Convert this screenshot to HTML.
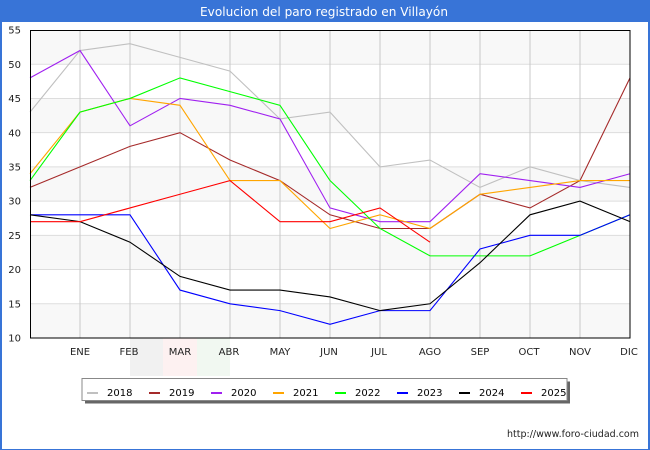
<!DOCTYPE html>
<html>
<head>
<meta charset="utf-8">
<style>
html,body{margin:0;padding:0;background:#fff;}
svg{display:block;}
text{font-family:"DejaVu Sans","Liberation Sans",sans-serif;}
</style>
</head>
<body>
<svg width="650" height="450" viewBox="0 0 650 450" xmlns="http://www.w3.org/2000/svg">
<rect x="0" y="0" width="650" height="450" fill="#ffffff"/>
<!-- outer blue frame -->
<rect x="0" y="0" width="2" height="450" fill="#3874d7"/>
<rect x="648" y="0" width="2" height="450" fill="#3874d7"/>
<rect x="0" y="449" width="650" height="1" fill="#3874d7"/>
<!-- title bar -->
<rect x="0" y="0" width="650" height="22" fill="#3874d7"/>
<text x="324" y="16" font-size="12" fill="#ffffff" text-anchor="middle" textLength="248" lengthAdjust="spacingAndGlyphs">Evolucion del paro registrado en Villayón</text>

<!-- watermark -->
<rect x="130" y="338" width="33" height="38" fill="#f1f1f1"/>
<rect x="163" y="338" width="34" height="38" fill="#fdf1f1"/>
<rect x="197" y="338" width="33" height="38" fill="#f1f8f1"/>

<!-- plot bands -->
<rect x="30" y="30" width="600" height="308" fill="#ffffff"/>
<rect x="30" y="30" width="600" height="34.22" fill="#f8f8f8"/>
<rect x="30" y="98.44" width="600" height="34.23" fill="#f8f8f8"/>
<rect x="30" y="166.89" width="600" height="34.22" fill="#f8f8f8"/>
<rect x="30" y="235.33" width="600" height="34.23" fill="#f8f8f8"/>
<rect x="30" y="303.78" width="600" height="34.22" fill="#f8f8f8"/>

<!-- horizontal gridlines -->
<g stroke="#dddddd" stroke-width="1">
<line x1="30" y1="64.22" x2="630" y2="64.22"/>
<line x1="30" y1="98.44" x2="630" y2="98.44"/>
<line x1="30" y1="132.67" x2="630" y2="132.67"/>
<line x1="30" y1="166.89" x2="630" y2="166.89"/>
<line x1="30" y1="201.11" x2="630" y2="201.11"/>
<line x1="30" y1="235.33" x2="630" y2="235.33"/>
<line x1="30" y1="269.56" x2="630" y2="269.56"/>
<line x1="30" y1="303.78" x2="630" y2="303.78"/>
</g>
<!-- vertical gridlines -->
<g stroke="#c8c8c8" stroke-width="1">
<line x1="80" y1="30" x2="80" y2="338"/>
<line x1="130" y1="30" x2="130" y2="338"/>
<line x1="180" y1="30" x2="180" y2="338"/>
<line x1="230" y1="30" x2="230" y2="338"/>
<line x1="280" y1="30" x2="280" y2="338"/>
<line x1="330" y1="30" x2="330" y2="338"/>
<line x1="380" y1="30" x2="380" y2="338"/>
<line x1="430" y1="30" x2="430" y2="338"/>
<line x1="480" y1="30" x2="480" y2="338"/>
<line x1="530" y1="30" x2="530" y2="338"/>
<line x1="580" y1="30" x2="580" y2="338"/>
</g>

<!-- series -->
<g fill="none" stroke-width="1.1" stroke-linejoin="miter">
<polyline stroke="#c0c0c0" points="30,112.13 80,50.53 130,43.69 180,57.38 230,71.07 280,118.98 330,112.13 380,166.89 430,160.04 480,187.42 530,166.89 580,180.58 630,187.42"/>
<polyline stroke="#a52a2a" points="30,187.42 80,166.89 130,146.36 180,132.67 230,160.04 280,180.58 330,214.8 380,228.49 430,228.49 480,194.27 530,207.96 580,180.58 630,77.91"/>
<polyline stroke="#a020f0" points="30,77.91 80,50.53 130,125.82 180,98.44 230,105.29 280,118.98 330,207.96 380,221.64 430,221.64 480,173.73 530,180.58 580,187.42 630,173.73"/>
<polyline stroke="#ffa500" points="30,173.73 80,112.13 130,98.44 180,105.29 230,180.58 280,180.58 330,228.49 380,214.8 430,228.49 480,194.27 530,187.42 580,180.58 630,180.58"/>
<polyline stroke="#00ff00" points="30,180.58 80,112.13 130,98.44 180,77.91 230,91.6 280,105.29 330,180.58 380,228.49 430,255.87 480,255.87 530,255.87 580,235.33 630,214.8"/>
<polyline stroke="#0000ff" points="30,214.8 80,214.8 130,214.8 180,290.09 230,303.78 280,310.62 330,324.31 380,310.62 430,310.62 480,249.02 530,235.33 580,235.33 630,214.8"/>
<polyline stroke="#000000" points="30,214.8 80,221.64 130,242.18 180,276.4 230,290.09 280,290.09 330,296.93 380,310.62 430,303.78 480,262.71 530,214.8 580,201.11 630,221.64"/>
<polyline stroke="#ff0000" points="30,221.64 80,221.64 130,207.96 180,194.27 230,180.58 280,221.64 330,221.64 380,207.96 430,242.18"/>
</g>

<!-- plot border -->
<rect x="30.5" y="30.5" width="599.5" height="307.5" fill="none" stroke="#000000" stroke-width="1"/>

<!-- y tick labels -->
<g font-size="10" fill="#222222" text-anchor="end">
<text x="21" y="33.6">55</text>
<text x="21" y="67.8">50</text>
<text x="21" y="102">45</text>
<text x="21" y="136.3">40</text>
<text x="21" y="170.5">35</text>
<text x="21" y="204.7">30</text>
<text x="21" y="238.9">25</text>
<text x="21" y="273.2">20</text>
<text x="21" y="307.4">15</text>
<text x="21" y="341.6">10</text>
</g>
<!-- x tick labels -->
<g font-size="10" fill="#222222" text-anchor="middle">
<text x="80" y="355">ENE</text>
<text x="129" y="355">FEB</text>
<text x="180" y="355">MAR</text>
<text x="229" y="355">ABR</text>
<text x="280" y="355">MAY</text>
<text x="329" y="355">JUN</text>
<text x="379" y="355">JUL</text>
<text x="430" y="355">AGO</text>
<text x="480" y="355">SEP</text>
<text x="529" y="355">OCT</text>
<text x="580" y="355">NOV</text>
<text x="629" y="355">DIC</text>
</g>

<!-- legend -->
<rect x="85" y="381.5" width="485" height="22" fill="#666666"/>
<rect x="82" y="378.5" width="485" height="22" fill="#ffffff" stroke="#888888" stroke-width="1"/>
<g stroke-width="2">
<line x1="87" y1="393" x2="98" y2="393" stroke="#c0c0c0"/>
<line x1="149" y1="393" x2="160" y2="393" stroke="#a52a2a"/>
<line x1="211" y1="393" x2="222" y2="393" stroke="#a020f0"/>
<line x1="273" y1="393" x2="284" y2="393" stroke="#ffa500"/>
<line x1="335" y1="393" x2="346" y2="393" stroke="#00ff00"/>
<line x1="397" y1="393" x2="408" y2="393" stroke="#0000ff"/>
<line x1="459" y1="393" x2="470" y2="393" stroke="#000000"/>
<line x1="521" y1="393" x2="532" y2="393" stroke="#ff0000"/>
</g>
<g font-size="10" fill="#000000">
<text x="107" y="396">2018</text>
<text x="169" y="396">2019</text>
<text x="231" y="396">2020</text>
<text x="293" y="396">2021</text>
<text x="355" y="396">2022</text>
<text x="417" y="396">2023</text>
<text x="479" y="396">2024</text>
<text x="541" y="396">2025</text>
</g>

<!-- footer -->
<text x="639" y="437" font-size="9.5" fill="#222222" text-anchor="end" textLength="132" lengthAdjust="spacingAndGlyphs">http://www.foro-ciudad.com</text>
</svg>
</body>
</html>
